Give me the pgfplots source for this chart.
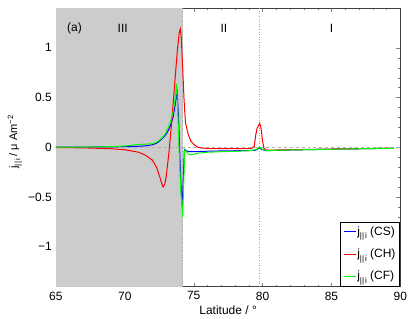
\documentclass[border=0pt]{standalone}
\usepackage{pgfplots}
\pgfplotsset{compat=1.18}
\usepackage{fontspec}
\setmainfont{Liberation Sans}
\newcommand{\jpar}{j\raisebox{-0.55ex}{\fontsize{8}{9}\selectfont ||\kern0.12em i}}
\begin{document}
\fontsize{12}{14}\selectfont
\begin{tikzpicture}
\begin{axis}[
  scale only axis, width=345pt, height=279pt,
  xmin=65, xmax=90, ymin=-1.4, ymax=1.4,
  xtick={65,70,75,80,85,90},
  ytick={-1,-0.5,0,0.5,1},
  yticklabels={−1,−0.5,0,0.5,1},
  minor x tick num=4, minor y tick num=4,
  tick align=inside, major tick length=4pt, minor tick length=2pt,
  /pgf/number format/assume math mode=true,
  tick label style={font=\fontsize{12}{14}\selectfont},
  xticklabel style={yshift=-1pt},
  xlabel={Latitude / °},
  ylabel={\jpar{} / μ Am\textsuperscript{−2}},
  xlabel style={font=\fontsize{12}{14}\selectfont, at={(axis description cs:0.5,-0.084)}, anchor=center},
  ylabel style={font=\fontsize{11}{13}\selectfont, at={(axis description cs:-0.119,0.52)}, anchor=center},
  axis line style={black!75},
  legend style={at={(0.998,0.002)}, anchor=south east, draw=black,
    font=\fontsize{12}{14}\selectfont, row sep=10pt, inner sep=3pt,
    nodes={inner sep=1pt}},
  legend cell align=left,
  legend image code/.code={\path[draw=white, line width=0pt, opacity=0] (0pt,0pt) -- (1pt,0pt); \draw[#1] (0pt,0pt) -- (12pt,0pt);},
]
\fill[black!20] (axis cs:65,-1.4) rectangle (axis cs:74.2,1.4);
\draw[black!35, dotted, line width=0.6pt] (axis cs:74.2,-1.4) -- (axis cs:74.2,1.4);
\draw[black!35, dotted, line width=0.6pt] (axis cs:79.75,-1.4) -- (axis cs:79.75,1.4);
\draw[black!30, dashed, line width=0.6pt] (axis cs:65,0) -- (axis cs:90,0);
\node at (axis cs:66.35,1.19) {(a)};
\node at (axis cs:69.85,1.19) {III};
\node at (axis cs:77.2,1.19) {II};
\node at (axis cs:85,1.19) {I};
% CS
\addplot[blue, line width=1pt] coordinates {
(65,0.0) (67,0.002) (69,0.004) (70,0.006) (71,0.01) (71.5,0.014) (72,0.025) (72.3,0.04) (72.5,0.06) (72.8,0.1) (73,0.13) (73.3,0.21) (73.5,0.30) (73.65,0.42) (73.8,0.55) (73.9,0.3) (74.0,-0.1) (74.1,-0.45) (74.17,-0.6) (74.25,-0.3) (74.32,-0.02) (74.45,-0.035) (74.7,-0.045) (75,-0.045) (76,-0.04) (77,-0.037) (78,-0.035) (79,-0.033) (79.5,-0.03) (79.75,-0.01) (80,-0.025) (80.3,-0.035) (81,-0.03) (83,-0.025) (85,-0.02) (87,-0.015) (89.5,-0.01)
};
\addlegendentry{\jpar{} (CS)}
% CH
\addplot[red, line width=1pt] coordinates {
(65,-0.003) (67,-0.006) (69,-0.015) (70,-0.025) (71,-0.05) (71.5,-0.08) (72,-0.13) (72.3,-0.2) (72.5,-0.28) (72.65,-0.35) (72.78,-0.40) (72.9,-0.37) (73.0,-0.3) (73.2,-0.06) (73.4,0.25) (73.6,0.6) (73.8,0.95) (73.95,1.15) (74.03,1.19) (74.1,1.1) (74.2,0.8) (74.3,0.48) (74.4,0.25) (74.6,0.13) (74.8,0.06) (75.0,0.03) (75.3,0.0) (75.6,-0.008) (76,-0.012) (77,-0.015) (78,-0.015) (79.2,-0.012) (79.4,0.01) (79.5,0.12) (79.6,0.19) (79.8,0.24) (79.9,0.18) (80.0,0.06) (80.1,-0.01) (80.3,-0.03) (81,-0.028) (83,-0.022) (85,-0.018) (87,-0.014) (89.5,-0.01)
};
\addlegendentry{\jpar{} (CH)}
% CF
\addplot[green, line width=1pt] coordinates {
(65,0.0) (67,0.002) (69,0.006) (70,0.012) (70.8,0.025) (71.5,0.032) (72,0.035) (72.3,0.05) (72.5,0.07) (72.8,0.11) (73,0.15) (73.3,0.25) (73.5,0.35) (73.62,0.45) (73.75,0.64) (73.85,0.35) (73.95,-0.05) (74.05,-0.4) (74.2,-0.7) (74.28,-0.35) (74.35,-0.03) (74.5,-0.05) (74.7,-0.075) (74.9,-0.075) (75.3,-0.06) (76,-0.05) (77,-0.045) (78,-0.04) (79,-0.035) (79.5,-0.025) (79.75,-0.0) (80,-0.02) (80.3,-0.035) (81,-0.03) (83,-0.025) (85,-0.02) (87,-0.015) (89.5,-0.01)
};
\addlegendentry{\jpar{} (CF)}
\end{axis}
\path ([yshift=8pt]current axis.north) ([xshift=10pt]current axis.east) ([yshift=-32pt]current axis.south) ([xshift=-56pt]current axis.west);
\end{tikzpicture}
\end{document}
